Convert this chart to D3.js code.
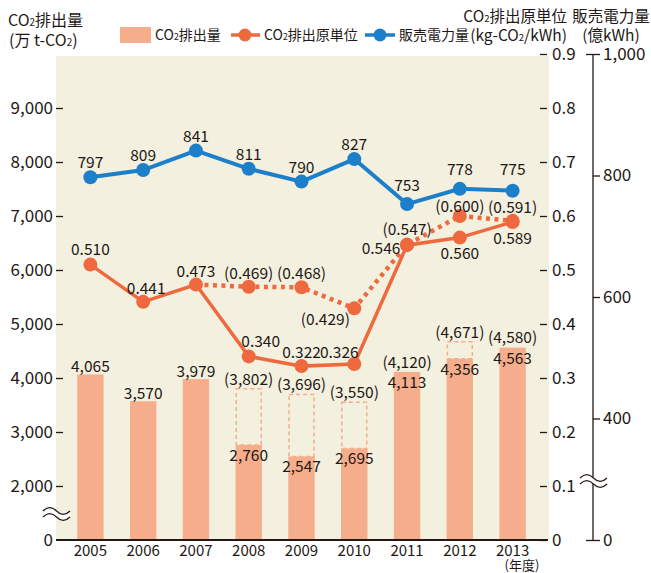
<!DOCTYPE html>
<html>
<head>
<meta charset="utf-8" />
<script src="https://cdn.jsdelivr.net/npm/d3@7/dist/d3.min.js"></script>
<style>
body{margin:0;background:#fff;}
svg text{font-family:"Noto Sans CJK JP","Noto Sans",sans-serif;fill:#231815;}
</style>
</head>
<body>
<div id="chart"></div>
<script>
// data
var years = [2005, 2006, 2007, 2008, 2009, 2010, 2011, 2012, 2013];
var emission = [4065, 3570, 3979, 2760, 2547, 2695, 4113, 4356, 4563];
var emissionAdj = [null, null, null, 3802, 3696, 3550, 4120, 4671, 4580];
var intensity = [0.510, 0.441, 0.473, 0.340, 0.322, 0.326, 0.546, 0.560, 0.589];
var intensityAdj = [null, null, 0.473, 0.469, 0.468, 0.429, 0.547, 0.600, 0.591];
var sales = [797, 809, 841, 811, 790, 827, 753, 778, 775];
var emisTicks = [1000, 2000, 3000, 4000, 5000, 6000, 7000, 8000, 9000]; // 1000 sits on the break, shown as 0
var intenTicks = [0, 0.1, 0.2, 0.3, 0.4, 0.5, 0.6, 0.7, 0.8, 0.9];
var salesTicks = [200, 400, 600, 800, 1000]; // 200 sits on the break, shown as 0

// label nudges (layout only)
var intenLab = [[0,-10],[3,-8],[0,-8],[12,-9],[0,-8],[-15,-6],[-26,9],[0,21],[0,22]];
var intenAdjLab = [null,null,null,[0,-8],[0,-8],[-29,17],[0,-10],[0,-4],[0,-8]];
var salesLab = [-9,-9,-9,-9,-9,-9,-13,-14,-16];

var width = 651, height = 573;
var orange = "#ee6a3e", blue = "#1c7fca", barCol = "#f5ad8b", bg = "#f4f0df";
var fmt = d3.format(",");
var f3 = d3.format(".3f");

var svg = d3.select("#chart").append("svg")
  .attr("width", width).attr("height", height);

var x = d3.scaleBand().domain(years).range([64, 539]).paddingInner(0.5).paddingOuter(0.25);
var yE = d3.scaleLinear().domain([1000, 10000]).range([540, 54]);
var yI = d3.scaleLinear().domain([0, 0.9]).range([540, 54]);
var yS = d3.scaleLinear().domain([200, 1000]).range([540, 54]);
function cx(d){ return x(d) + x.bandwidth()/2; }

// CO2 -> small 2
function co2(sel, str){
  str.split("₂").forEach(function(p, i){
    if(i > 0) sel.append("tspan").attr("font-size", "0.62em").text("2");
    if(p) sel.append("tspan").text(p);
  });
  return sel;
}

svg.append("rect").attr("x", 56).attr("y", 56).attr("width", 493).attr("height", 484).attr("fill", bg);

// bars
svg.selectAll(".bar").data(years).enter().append("rect")
  .attr("x", function(d){ return x(d); })
  .attr("y", function(d,i){ return yE(emission[i]); })
  .attr("width", x.bandwidth())
  .attr("height", function(d,i){ return 540 - yE(emission[i]); })
  .attr("fill", barCol);

// dashed boxes for adjusted emissions
svg.selectAll(".adj").data(years).enter()
  .filter(function(d,i){ return emissionAdj[i] && yE(emission[i]) - yE(emissionAdj[i]) > 3; })
  .append("rect")
  .attr("x", function(d){ return x(d) + 0.75; })
  .attr("y", function(d){ var i = years.indexOf(d); return yE(emissionAdj[i]); })
  .attr("width", x.bandwidth() - 1.5)
  .attr("height", function(d){ var i = years.indexOf(d); return yE(emission[i]) - yE(emissionAdj[i]); })
  .attr("fill", "none").attr("stroke", barCol).attr("stroke-width", 1.5).attr("stroke-dasharray", "4,3");

// bar labels
svg.selectAll(".blab").data(years).enter().append("text")
  .attr("x", cx)
  .attr("y", function(d,i){ var t = yE(emission[i]); return emissionAdj[i] ? t + 16 : t - 2; })
  .attr("text-anchor", "middle").attr("font-size", 15.5)
  .text(function(d,i){ return fmt(emission[i]); });
svg.selectAll(".alab").data(years).enter()
  .filter(function(d,i){ return emissionAdj[i]; })
  .append("text")
  .attr("x", cx)
  .attr("y", function(d){ var i = years.indexOf(d); return yE(emissionAdj[i]) - 4; })
  .attr("text-anchor", "middle").attr("font-size", 15.5)
  .text(function(d){ return "(" + fmt(emissionAdj[years.indexOf(d)]) + ")"; });

// axes
var axL = svg.append("g").attr("transform", "translate(63,0)")
  .call(d3.axisLeft(yE).tickValues(emisTicks).tickSize(7).tickPadding(3)
    .tickFormat(function(d){ return d === 1000 ? "0" : fmt(d); }));
var axR1 = svg.append("g").attr("transform", "translate(540,0)")
  .call(d3.axisRight(yI).tickValues(intenTicks).tickSize(7).tickPadding(5)
    .tickFormat(function(d){ return d === 0 ? "0" : d3.format(".1f")(d); }));
var axR2 = svg.append("g").attr("transform", "translate(593,0)")
  .call(d3.axisRight(yS).tickValues(salesTicks).tickSize(7).tickPadding(3)
    .tickFormat(function(d){ return d === 200 ? "0" : fmt(d); }));
[axL, axR1, axR2].forEach(function(a){
  a.selectAll("text").attr("font-size", 17).attr("font-family", '"Noto Sans CJK JP",sans-serif').attr("fill", "#231815");
  a.selectAll("line").attr("stroke", "#231815").attr("stroke-width", 1.3);
});
axL.select(".domain").remove();
axR1.select(".domain").remove();
axR2.select(".domain").attr("stroke", "#231815").attr("stroke-width", 1.3).attr("d", "M0," + yS(1000) + "V" + yS(200));
axR2.selectAll(".tick").filter(function(d){ return d === 1000 || d === 200; })
  .select("line").attr("x1", -7);
axL.selectAll(".tick").filter(function(d){ return d === 1000; }).select("line").remove();

// bottom axis line + years
svg.append("line").attr("x1", 56).attr("x2", 548).attr("y1", 540).attr("y2", 540)
  .attr("stroke", "#231815").attr("stroke-width", 1.8);
svg.selectAll(".yr").data(years).enter().append("text")
  .attr("x", cx).attr("y", 556).attr("text-anchor", "middle").attr("font-size", 15)
  .text(function(d){ return d; });
svg.append("text").attr("x", 522).attr("y", 570).attr("text-anchor", "middle").attr("font-size", 13).text("(年度)");

// break marks
function brk(x0, y0){
  var wave = function(y){ return "M" + x0 + "," + y + "c4.5,-4.5 9,-4.5 13.5,0s9,4.5 13.5,0"; };
  svg.append("path").attr("d", wave(y0 + 3)).attr("fill", "none").attr("stroke", "#fff").attr("stroke-width", 5);
  svg.append("path").attr("d", wave(y0)).attr("fill", "none").attr("stroke", "#231815").attr("stroke-width", 1.2);
  svg.append("path").attr("d", wave(y0 + 6)).attr("fill", "none").attr("stroke", "#231815").attr("stroke-width", 1.2);
}
brk(43, 511);
brk(580, 478);

// lines
var ptsI = years.map(function(d,i){ return [cx(d), yI(intensity[i])]; });
var ptsA = years.map(function(d,i){ return intensityAdj[i] == null ? null : [cx(d), yI(intensityAdj[i])]; }).filter(Boolean);
var ptsS = years.map(function(d,i){ return [cx(d), yS(sales[i])]; });
var line = d3.line();

svg.append("path").attr("d", line(ptsA)).attr("fill", "none").attr("stroke", orange)
  .attr("stroke-width", 4.5).attr("stroke-dasharray", "4,4.5");
svg.append("path").attr("d", line(ptsI)).attr("fill", "none").attr("stroke", orange).attr("stroke-width", 3.5);
svg.append("path").attr("d", line(ptsS)).attr("fill", "none").attr("stroke", blue).attr("stroke-width", 4);

svg.selectAll(".ca").data(ptsA.slice(1)).enter().append("circle")
  .attr("cx", function(p){ return p[0]; }).attr("cy", function(p){ return p[1]; }).attr("r", 7).attr("fill", orange);
svg.selectAll(".ci").data(ptsI).enter().append("circle")
  .attr("cx", function(p){ return p[0]; }).attr("cy", function(p){ return p[1]; }).attr("r", 7).attr("fill", orange);
svg.selectAll(".cs").data(ptsS).enter().append("circle")
  .attr("cx", function(p){ return p[0]; }).attr("cy", function(p){ return p[1]; }).attr("r", 7).attr("fill", blue);

// point labels
svg.selectAll(".li").data(years).enter().append("text")
  .attr("x", function(d,i){ return cx(d) + intenLab[i][0]; })
  .attr("y", function(d,i){ return yI(intensity[i]) + intenLab[i][1]; })
  .attr("text-anchor", "middle").attr("font-size", 15.5)
  .text(function(d,i){ return f3(intensity[i]); });
svg.selectAll(".la").data(years).enter()
  .filter(function(d,i){ return intenAdjLab[i]; })
  .append("text")
  .attr("x", function(d){ var i = years.indexOf(d); return cx(d) + intenAdjLab[i][0]; })
  .attr("y", function(d){ var i = years.indexOf(d); return yI(intensityAdj[i]) + intenAdjLab[i][1]; })
  .attr("text-anchor", "middle").attr("font-size", 15.5)
  .text(function(d){ return "(" + f3(intensityAdj[years.indexOf(d)]) + ")"; });
svg.selectAll(".ls").data(years).enter().append("text")
  .attr("x", cx)
  .attr("y", function(d,i){ return yS(sales[i]) + salesLab[i]; })
  .attr("text-anchor", "middle").attr("font-size", 15.5)
  .text(function(d,i){ return sales[i]; });

// titles
co2(svg.append("text").attr("x", 8).attr("y", 26).attr("font-size", 16), "CO₂排出量");
co2(svg.append("text").attr("x", 9).attr("y", 46).attr("font-size", 16), "(万 t-CO₂)");
co2(svg.append("text").attr("x", 567).attr("y", 22).attr("text-anchor", "end").attr("font-size", 15.5), "CO₂排出原単位");
co2(svg.append("text").attr("x", 567).attr("y", 41).attr("text-anchor", "end").attr("font-size", 15.5), "(kg-CO₂/kWh)");
svg.append("text").attr("x", 611).attr("y", 22).attr("text-anchor", "middle").attr("font-size", 15.5).text("販売電力量");
svg.append("text").attr("x", 611).attr("y", 41).attr("text-anchor", "middle").attr("font-size", 15.5).text("(億kWh)");

// legend
svg.append("rect").attr("x", 120).attr("y", 27).attr("width", 31).attr("height", 16).attr("fill", barCol);
co2(svg.append("text").attr("x", 155).attr("y", 40).attr("font-size", 14), "CO₂排出量");
svg.append("line").attr("x1", 231).attr("x2", 260).attr("y1", 35).attr("y2", 35).attr("stroke", orange).attr("stroke-width", 3.5);
svg.append("circle").attr("cx", 245).attr("cy", 35).attr("r", 6.5).attr("fill", orange);
co2(svg.append("text").attr("x", 264).attr("y", 40).attr("font-size", 14), "CO₂排出原単位");
svg.append("line").attr("x1", 365).attr("x2", 395).attr("y1", 35).attr("y2", 35).attr("stroke", blue).attr("stroke-width", 3.5);
svg.append("circle").attr("cx", 380).attr("cy", 35).attr("r", 6.5).attr("fill", blue);
svg.append("text").attr("x", 399).attr("y", 40).attr("font-size", 14).text("販売電力量");
</script>
</body>
</html>
